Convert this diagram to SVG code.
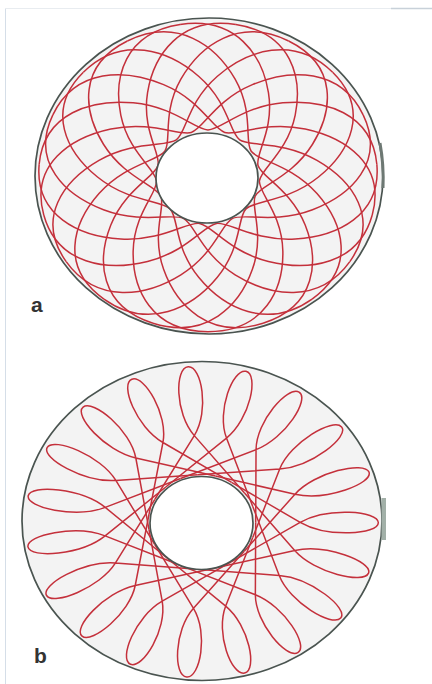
<svg xmlns="http://www.w3.org/2000/svg" width="432" height="684" viewBox="0 0 432 684">
<style>
.red{fill:none;stroke:#c4303b;stroke-width:1.5;vector-effect:non-scaling-stroke;stroke-linejoin:round}
.ring{fill:#f3f3f3;stroke:none}
.edge{fill:none;stroke:#4a5450;stroke-width:1.7}
.hole{fill:#ffffff;stroke:#4a5450;stroke-width:1.7}
.lbl{font-family:"Liberation Sans",Arial,sans-serif;font-weight:bold;font-size:21px;fill:#333333}
.frame{stroke:#d5dee8;stroke-width:1;fill:none}
</style>
<defs>
<path id="archA" class="red" d="M -0.9816,-0.0814 C -0.9543,-0.4103 -0.6738,-0.4968 -0.4351,-0.4727 C -0.1964,-0.4486 -0.0744,-0.30 0,-0.30 C 0.0744,-0.30 0.1964,-0.4486 0.4351,-0.4727 C 0.6738,-0.4968 0.9543,-0.4103 0.9816,-0.0814"/>
<path id="petalB" class="red" d="M -0.2511,-0.1641 L 0,-0.5484 C 0.098,-0.699 0.075,-0.985 0,-0.985 C -0.075,-0.985 -0.098,-0.699 0,-0.5484 L 0.2511,-0.1641"/>
</defs>
<rect width="432" height="684" fill="#ffffff"/>
<g id="frame">
<line class="frame" x1="5.5" y1="9" x2="5.5" y2="684"/>
<line x1="5" y1="8.5" x2="432" y2="8.5" stroke="#e8ecf0" stroke-width="1"/>
<line x1="391" y1="8.5" x2="432" y2="8.5" stroke="#c8d1d9" stroke-width="1.5"/>
</g>
<g id="panel-a">
<ellipse class="ring" cx="209" cy="176" rx="174" ry="158"/>
<g transform="translate(208,177) scale(172,157)">
<use href="#archA"/>
<use href="#archA" transform="rotate(18.947)"/>
<use href="#archA" transform="rotate(37.895)"/>
<use href="#archA" transform="rotate(56.842)"/>
<use href="#archA" transform="rotate(75.789)"/>
<use href="#archA" transform="rotate(94.737)"/>
<use href="#archA" transform="rotate(113.684)"/>
<use href="#archA" transform="rotate(132.632)"/>
<use href="#archA" transform="rotate(151.579)"/>
<use href="#archA" transform="rotate(170.526)"/>
<use href="#archA" transform="rotate(189.474)"/>
<use href="#archA" transform="rotate(208.421)"/>
<use href="#archA" transform="rotate(227.368)"/>
<use href="#archA" transform="rotate(246.316)"/>
<use href="#archA" transform="rotate(265.263)"/>
<use href="#archA" transform="rotate(284.211)"/>
<use href="#archA" transform="rotate(303.158)"/>
<use href="#archA" transform="rotate(322.105)"/>
<use href="#archA" transform="rotate(341.053)"/>
</g>
<ellipse class="edge" cx="209" cy="176" rx="174" ry="158"/>
<path d="M 380,143 Q 384,165 383,188" fill="none" stroke="#6d7873" stroke-width="3"/>
<ellipse class="hole" cx="207" cy="178" rx="51" ry="45"/>
<text class="lbl" x="31" y="312">a</text>
</g>
<g id="panel-b">
<ellipse class="ring" cx="202" cy="521" rx="180" ry="159.5"/>
<g transform="translate(202,522) scale(179,158)">
<use href="#petalB" transform="rotate(-4.5)"/>
<use href="#petalB" transform="rotate(14.447)"/>
<use href="#petalB" transform="rotate(33.395)"/>
<use href="#petalB" transform="rotate(52.342)"/>
<use href="#petalB" transform="rotate(71.289)"/>
<use href="#petalB" transform="rotate(90.237)"/>
<use href="#petalB" transform="rotate(109.184)"/>
<use href="#petalB" transform="rotate(128.132)"/>
<use href="#petalB" transform="rotate(147.079)"/>
<use href="#petalB" transform="rotate(166.026)"/>
<use href="#petalB" transform="rotate(184.974)"/>
<use href="#petalB" transform="rotate(203.921)"/>
<use href="#petalB" transform="rotate(222.868)"/>
<use href="#petalB" transform="rotate(241.816)"/>
<use href="#petalB" transform="rotate(260.763)"/>
<use href="#petalB" transform="rotate(279.711)"/>
<use href="#petalB" transform="rotate(298.658)"/>
<use href="#petalB" transform="rotate(317.605)"/>
<use href="#petalB" transform="rotate(336.553)"/>
</g>
<ellipse class="edge" cx="202" cy="521" rx="180" ry="159.5"/>
<rect x="381.5" y="498" width="4.5" height="42" fill="#a2b0a8"/>
<ellipse class="hole" cx="201.5" cy="523" rx="51.5" ry="46.5"/>
<text class="lbl" x="34" y="663">b</text>
</g>
</svg>
